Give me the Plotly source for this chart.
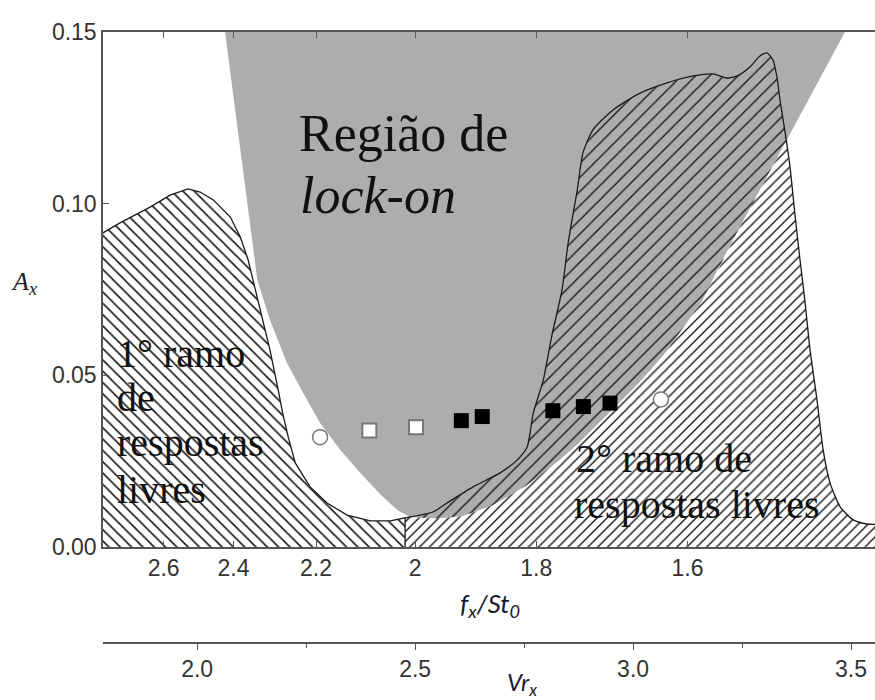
import numpy as np
import plotly.graph_objects as go

# Reduced velocity Vr_x is the linear abscissa; f_x/St_0 = ST0_INV / Vr_x
ST0_INV = 5.0
X_RANGE = [1.784, 3.555]
Y_RANGE = [0.0, 0.15]

F_TICKS = [2.6, 2.4, 2.2, 2.0, 1.8, 1.6]
F_TICK_LABELS = ["2.6", "2.4", "2.2", "2", "1.8", "1.6"]
VR_TICKS = [2.0, 2.5, 3.0, 3.5]
VR_TICK_LABELS = ["2.0", "2.5", "3.0", "3.5"]
A_TICKS = [0.0, 0.05, 0.10, 0.15]
A_TICK_LABELS = ["0.00", "0.05", "0.10", "0.15"]

# 1st branch of free responses: upper outline (Vr_x, A_x)
branch1_vr = [1.770, 1.784, 1.823, 1.892, 1.938, 1.979, 2.007, 2.037, 2.076, 2.099,
              2.117, 2.128, 2.149, 2.167, 2.186, 2.197, 2.209, 2.225, 2.259, 2.298,
              2.344, 2.397, 2.443, 2.477]
branch1_ax = [0.0908, 0.0915, 0.0944, 0.0990, 0.1025, 0.1043, 0.1034, 0.1011, 0.0961, 0.0903,
              0.0836, 0.0778, 0.0670, 0.0574, 0.0457, 0.0385, 0.0320, 0.0245, 0.0175, 0.0128,
              0.0093, 0.0076, 0.0076, 0.0085]

# 2nd branch of free responses: upper outline (Vr_x, A_x)
branch2_vr = [2.477, 2.541, 2.573, 2.633, 2.695, 2.734, 2.757, 2.771, 2.794, 2.814,
              2.837, 2.851, 2.872, 2.885, 2.908, 2.954, 3.016, 3.078, 3.138, 3.183,
              3.216, 3.239, 3.268, 3.291, 3.307, 3.321, 3.330, 3.337, 3.349, 3.360,
              3.372, 3.383, 3.394, 3.406, 3.422, 3.436, 3.452, 3.475, 3.505, 3.537, 3.600]
branch2_ax = [0.0085, 0.0102, 0.0128, 0.0175, 0.0216, 0.0253, 0.0291, 0.0390, 0.0486, 0.0618,
              0.0749, 0.0885, 0.1040, 0.1148, 0.1215, 0.1273, 0.1322, 0.1352, 0.1372, 0.1378,
              0.1366, 0.1372, 0.1398, 0.1430, 0.1439, 0.1418, 0.1369, 0.1302, 0.1206, 0.1107,
              0.0961, 0.0836, 0.0719, 0.0574, 0.0428, 0.0283, 0.0186, 0.0117, 0.0079, 0.0067, 0.0067]

# Lock-on region: lower boundary, closed along A_x = 0.15
lock_vr = [2.064, 2.103, 2.122, 2.138, 2.167, 2.206, 2.243, 2.282, 2.328, 2.374,
           2.420, 2.459, 2.489, 2.534, 2.603, 2.672, 2.741, 2.810, 2.867, 2.924,
           2.993, 3.062, 3.154, 3.211, 3.291, 3.383, 3.486]
lock_ax = [0.1500, 0.1118, 0.0923, 0.0778, 0.0661, 0.0536, 0.0449, 0.0361, 0.0283, 0.0216,
           0.0154, 0.0108, 0.0087, 0.0082, 0.0087, 0.0117, 0.0166, 0.0230, 0.0291, 0.0364,
           0.0449, 0.0545, 0.0705, 0.0851, 0.1040, 0.1258, 0.1500]

# Measured responses
circle_vr = [2.282, 3.064]
circle_ax = [0.0320, 0.0430]
open_sq_vr = [2.395, 2.502]
open_sq_ax = [0.0339, 0.0349]
solid_sq_vr = [2.606, 2.654, 2.816, 2.886, 2.947]
solid_sq_ax = [0.0368, 0.0380, 0.0397, 0.0409, 0.0419]

GRAY = "#adadad"
INK = "#1a1a1a"
AXIS = "#555555"

fig = go.Figure()

# lock-on region
fig.add_trace(go.Scatter(x=lock_vr, y=lock_ax, mode="lines", fill="toself",
                         fillcolor=GRAY, line=dict(width=0), hoverinfo="skip"))

# 2nd branch, sparse hatch over the lock-on gray
b2x = [branch2_vr[0]] + branch2_vr + [branch2_vr[-1]]
b2y = [0.0] + branch2_ax + [0.0]
fig.add_trace(go.Scatter(x=b2x, y=b2y, mode="lines", fill="toself",
                         fillcolor="rgba(0,0,0,0)", line=dict(width=0),
                         fillpattern=dict(shape="/", size=10, solidity=0.14,
                                          fgcolor=INK, bgcolor="rgba(0,0,0,0)",
                                          fillmode="replace"),
                         hoverinfo="skip"))

# part of the 2nd branch outside the lock-on region: denser hatch on white
grid = np.linspace(branch2_vr[0], branch2_vr[-1], 600)
upper = np.minimum(np.interp(grid, branch2_vr, branch2_ax),
                   np.interp(grid, lock_vr, lock_ax))
wx = np.concatenate([grid, grid[::-1]])
wy = np.concatenate([upper, np.zeros_like(grid)])
fig.add_trace(go.Scatter(x=wx, y=wy, mode="lines", fill="toself",
                         fillcolor="white", line=dict(width=0),
                         fillpattern=dict(shape="/", size=7, solidity=0.2,
                                          fgcolor=INK, bgcolor="white",
                                          fillmode="replace"),
                         hoverinfo="skip"))

# 2nd branch outline
fig.add_trace(go.Scatter(x=branch2_vr, y=branch2_ax, mode="lines",
                         line=dict(color=INK, width=1.3, shape="spline", smoothing=0.6),
                         hoverinfo="skip"))

# 1st branch, hatched the other way, with the divider edge
b1x = [branch1_vr[0]] + branch1_vr + [branch1_vr[-1]]
b1y = [0.0] + branch1_ax + [0.0]
fig.add_trace(go.Scatter(x=b1x, y=b1y, mode="lines", fill="toself",
                         fillcolor="rgba(0,0,0,0)",
                         line=dict(color=INK, width=1.3),
                         fillpattern=dict(shape="\\", size=8, solidity=0.2,
                                          fgcolor=INK, bgcolor="rgba(0,0,0,0)",
                                          fillmode="replace"),
                         hoverinfo="skip"))

# measured points
fig.add_trace(go.Scatter(x=circle_vr, y=circle_ax, mode="markers",
                         marker=dict(symbol="circle", size=15, color="white",
                                     line=dict(color="#777777", width=1.5)),
                         hoverinfo="skip"))
fig.add_trace(go.Scatter(x=open_sq_vr, y=open_sq_ax, mode="markers",
                         marker=dict(symbol="square", size=14, color="white",
                                     line=dict(color="#777777", width=2)),
                         hoverinfo="skip"))
fig.add_trace(go.Scatter(x=solid_sq_vr, y=solid_sq_ax, mode="markers",
                         marker=dict(symbol="square", size=15, color="black",
                                     line=dict(color="black", width=0)),
                         hoverinfo="skip"))
# dummy trace to show the Vr_x axis
fig.add_trace(go.Scatter(x=X_RANGE, y=[None, None], xaxis="x2", mode="lines",
                         hoverinfo="skip"))

TICK_FONT = dict(family="Liberation Sans, Arial, sans-serif", size=23, color="#333333")
SERIF = "Liberation Serif, Times New Roman, serif"

fig.update_layout(
    width=875, height=700,
    margin=dict(l=103, r=0, t=32, b=57),
    paper_bgcolor="white", plot_bgcolor="white",
    showlegend=False,
    xaxis=dict(range=X_RANGE, tickvals=[ST0_INV / f for f in F_TICKS],
               ticktext=F_TICK_LABELS, ticks="inside", ticklen=6, tickwidth=1.3,
               tickcolor=AXIS, showline=True, linecolor=AXIS, linewidth=1.5,
               mirror="ticks", showgrid=False, zeroline=False, tickfont=TICK_FONT,
               anchor="y"),
    xaxis2=dict(range=X_RANGE, tickvals=VR_TICKS, ticktext=VR_TICK_LABELS,
                ticks="outside", ticklen=6, tickwidth=1.3, tickcolor=AXIS,
                minor=dict(tickvals=[2.25, 2.75, 3.25], ticks="outside", ticklen=4,
                           tickcolor=AXIS, tickwidth=1.3),
                showline=True, linecolor=AXIS, linewidth=1.5, showgrid=False,
                zeroline=False, tickfont=TICK_FONT, overlaying="x", anchor="free",
                position=0, side="bottom"),
    yaxis=dict(range=Y_RANGE, domain=[0.1571, 1], tickvals=A_TICKS,
               ticktext=A_TICK_LABELS, ticks="inside", ticklen=6, tickwidth=1.3,
               tickcolor=AXIS, showline=True, linecolor=AXIS, linewidth=1.5,
               showgrid=False, zeroline=False, tickfont=TICK_FONT),
)


def px_x(px):
    return (px - 103) / 772.0


def px_y(py):
    return (643 - py) / 611.0


notes = [
    ("Região de", 297, 133, 52),
    ("<i>lock-on</i>", 298, 195, 52),
    ("1° ramo", 115, 353, 40),
    ("de", 115, 397, 40),
    ("respostas", 115, 442, 40),
    ("livres", 115, 489, 40),
    ("2° ramo de", 574, 458, 40),
    ("respostas livres", 572, 505, 40),
]
for text, x, y, size in notes:
    fig.add_annotation(text=text, x=px_x(x), y=px_y(y), xref="paper", yref="paper",
                       xanchor="left", yanchor="middle", showarrow=False,
                       font=dict(family=SERIF, size=size, color="#111111"))

TITLE_FONT = dict(family="Lato, Open Sans, sans-serif", size=26, color="#1a1a2e")
fig.add_annotation(text="<i>f<sub>x</sub>/St<sub>0</sub></i>", x=px_x(490), y=px_y(604),
                   xref="paper", yref="paper", xanchor="center", yanchor="middle",
                   showarrow=False, font=TITLE_FONT)
fig.add_annotation(text="<i>Vr<sub>x</sub></i>", x=px_x(522), y=px_y(683),
                   xref="paper", yref="paper", xanchor="center", yanchor="middle",
                   showarrow=False, font=dict(family="Lato, Open Sans, sans-serif",
                                              size=24, color="#1a1a2e"))
fig.add_annotation(text="<i>A<sub>x</sub></i>", x=px_x(24), y=px_y(283),
                   xref="paper", yref="paper", xanchor="center", yanchor="middle",
                   showarrow=False, font=dict(family=SERIF, size=26, color="#222222"))

fig.write_html("out.html")
